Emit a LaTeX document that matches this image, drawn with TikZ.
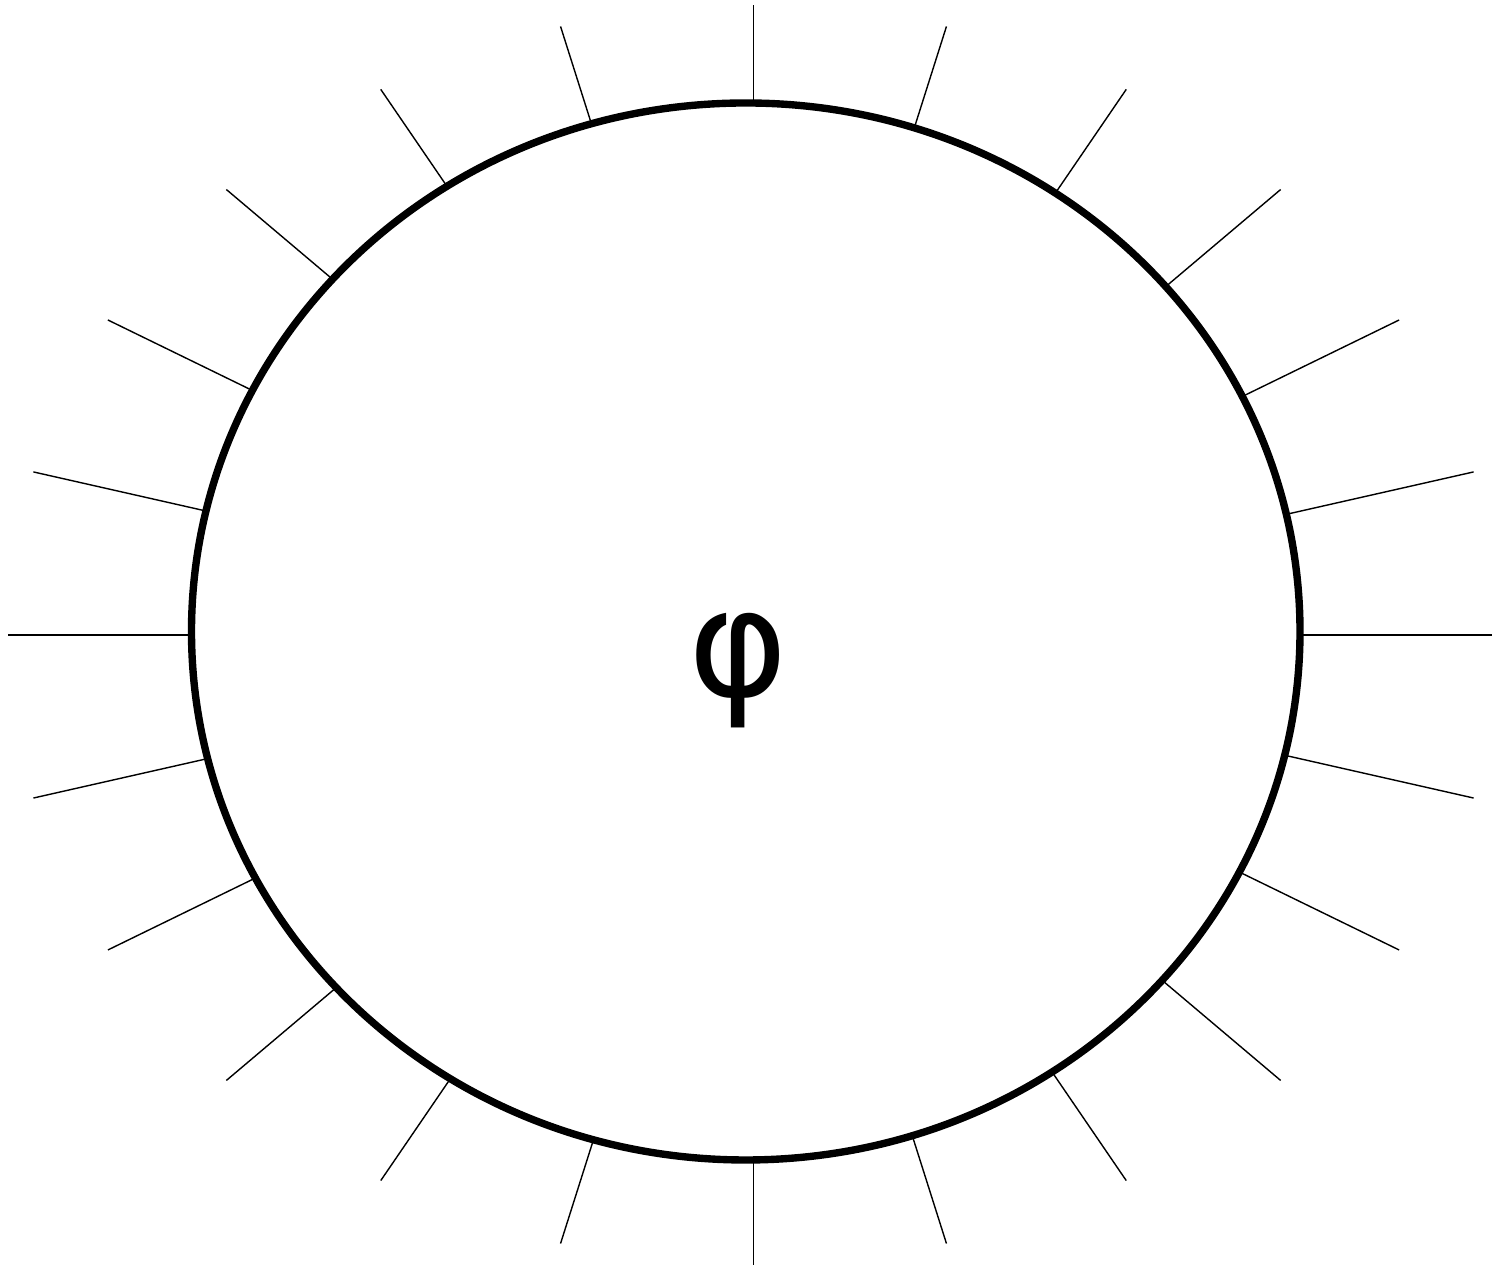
\documentclass[tikz,border=0pt]{standalone}
\usepackage{fontspec}
\newfontfamily\phifont{DejaVu Sans}
\begin{document}
\begin{tikzpicture}
        \useasboundingbox (0,0) rectangle (14.92,12.68);
        \coordinate (hub) at (7.535,6.33);
        \foreach \t in {0,15,...,345} {
            \draw[line width=0.4pt] (hub) -- ++({7.455*cos(\t)},{6.30*sin(\t)});
        }
        \draw[line width=2.1pt,fill=white] (7.4575,6.365) ellipse (5.5425 and 5.285);
        \node[anchor=base,inner sep=0pt,font=\phifont\fontsize{43}{50}\selectfont] (phi) at (7.38,5.71) {φ};
    \end{tikzpicture}
\end{document}
